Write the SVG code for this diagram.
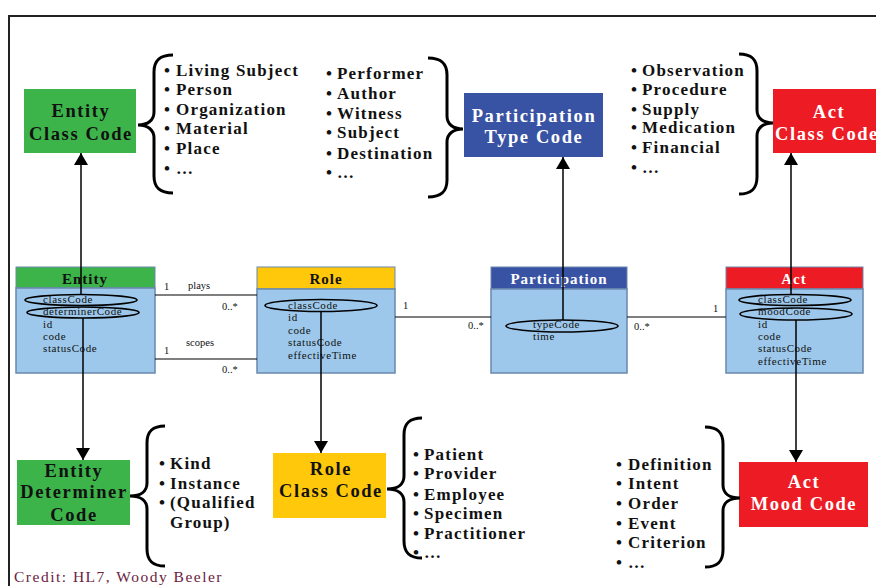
<svg xmlns="http://www.w3.org/2000/svg" width="876" height="586" viewBox="0 0 876 586">
<defs>
<marker id="ah" markerUnits="userSpaceOnUse" markerWidth="12" markerHeight="14" refX="12" refY="7" orient="auto">
<path d="M0,0 L12,7 L0,14 z" fill="#000"/>
</marker>
<style>
.bx{font-family:"Liberation Serif","Times New Roman",serif;font-weight:bold;font-size:18.5px;letter-spacing:1.6px;text-anchor:middle}
.li{font-family:"Liberation Serif","Times New Roman",serif;font-weight:bold;font-size:17px;letter-spacing:1.2px;fill:#111}
.hd{font-family:"Liberation Serif","Times New Roman",serif;font-weight:bold;font-size:15px;letter-spacing:1px;text-anchor:middle}
.at{font-family:"Liberation Serif","Times New Roman",serif;font-size:11px;letter-spacing:0.6px;fill:#111}
.ml{font-family:"Liberation Serif","Times New Roman",serif;font-size:10.5px;fill:#111}
.br{fill:none;stroke:#000;stroke-width:3}
.el{fill:none;stroke:#000;stroke-width:1.6}
.body{fill:#9dc8eb;stroke:#6a88ad;stroke-width:1.5}
.cn{stroke:#000;stroke-width:1.2;fill:none}
.ar{stroke:#000;stroke-width:1.5;fill:none;marker-end:url(#ah)}
.w{fill:#fff}
.k{fill:#111}
</style>
</defs>
<rect width="876" height="586" fill="#fff"/>
<path d="M9,586 L9,16 L876,16" fill="none" stroke="#222" stroke-width="2"/>

<g id="entity-class-code">
<rect x="24" y="89" width="112" height="64" fill="#3cb44a"/>
<text class="bx k" x="81" y="117">Entity</text>
<text class="bx k" x="81" y="140">Class Code</text>
<path class="br" d="M173,55 C160,55 154,60 154,72 L154,112 C154,120 148,125 138,125 C148,125 154,130 154,138 L154,176 C154,188 160,193 173,193"/>
<text class="li"><tspan x="164" y="76">•</tspan><tspan x="176" y="76">Living Subject</tspan></text>
<text class="li"><tspan x="164" y="95">•</tspan><tspan x="176" y="95">Person</tspan></text>
<text class="li"><tspan x="164" y="115">•</tspan><tspan x="176" y="115">Organization</tspan></text>
<text class="li"><tspan x="164" y="134">•</tspan><tspan x="176" y="134">Material</tspan></text>
<text class="li"><tspan x="164" y="154">•</tspan><tspan x="176" y="154">Place</tspan></text>
<text class="li"><tspan x="164" y="174">•</tspan><tspan x="176" y="174">…</tspan></text>
</g>

<g id="participation-type-code">
<rect x="464" y="93" width="139" height="64" fill="#3953a4"/>
<text class="bx w" x="534" y="122">Participation</text>
<text class="bx w" x="534" y="143">Type Code</text>
<path class="br" d="M428,58 C441,58 447,63 447,75 L447,116 C447,124 453,129 463,129 C453,129 447,134 447,142 L447,180 C447,192 441,197 428,197"/>
<text class="li"><tspan x="326" y="79">•</tspan><tspan x="337" y="79">Performer</tspan></text>
<text class="li"><tspan x="326" y="99">•</tspan><tspan x="337" y="99">Author</tspan></text>
<text class="li"><tspan x="326" y="119">•</tspan><tspan x="337" y="119">Witness</tspan></text>
<text class="li"><tspan x="326" y="138">•</tspan><tspan x="337" y="138">Subject</tspan></text>
<text class="li"><tspan x="326" y="159">•</tspan><tspan x="337" y="159">Destination</tspan></text>
<text class="li"><tspan x="326" y="178">•</tspan><tspan x="337" y="178">…</tspan></text>
</g>

<g id="act-class-code">
<rect x="773" y="89" width="112" height="64" fill="#ed1c24"/>
<text class="bx w" x="829" y="118">Act</text>
<text class="bx w" x="827" y="140">Class Code</text>
<path class="br" d="M739,54 C751,54 757,59 757,71 L757,110 C757,118 763,123 773,123 C763,123 757,128 757,136 L757,177 C757,189 751,194 739,194"/>
<text class="li"><tspan x="631" y="76">•</tspan><tspan x="642" y="76">Observation</tspan></text>
<text class="li"><tspan x="631" y="95">•</tspan><tspan x="642" y="95">Procedure</tspan></text>
<text class="li"><tspan x="631" y="115">•</tspan><tspan x="642" y="115">Supply</tspan></text>
<text class="li"><tspan x="631" y="133">•</tspan><tspan x="642" y="133">Medication</tspan></text>
<text class="li"><tspan x="631" y="153">•</tspan><tspan x="642" y="153">Financial</tspan></text>
<text class="li"><tspan x="631" y="173">•</tspan><tspan x="642" y="173">…</tspan></text>
</g>

<g id="entity">
<rect x="16" y="267" width="139" height="21" fill="#3cb44a" stroke="#6a88ad" stroke-width="1"/>
<rect class="body" x="16" y="288" width="139" height="85"/>
<text class="hd k" x="85" y="284">Entity</text>
<text class="at" x="43" y="303">classCode</text>
<text class="at" x="43" y="315">determinerCode</text>
<text class="at" x="43" y="328">id</text>
<text class="at" x="43" y="340">code</text>
<text class="at" x="43" y="352">statusCode</text>
<ellipse class="el" cx="81" cy="300" rx="56" ry="5.5"/>
<ellipse class="el" cx="83" cy="312.5" rx="56" ry="5.5"/>
</g>

<g id="role">
<rect x="257" y="267" width="138" height="22" fill="#ffc80a" stroke="#6a88ad" stroke-width="1"/>
<rect class="body" x="257" y="289" width="138" height="84"/>
<text class="hd k" x="326" y="284">Role</text>
<text class="at" x="288" y="309">classCode</text>
<text class="at" x="288" y="321">id</text>
<text class="at" x="288" y="334">code</text>
<text class="at" x="288" y="346">statusCode</text>
<text class="at" x="288" y="359">effectiveTime</text>
<ellipse class="el" cx="321" cy="305.5" rx="56" ry="6"/>
</g>

<g id="participation">
<rect x="491" y="267" width="136" height="22" fill="#3953a4" stroke="#6a88ad" stroke-width="1"/>
<rect class="body" x="491" y="289" width="136" height="84"/>
<text class="hd w" x="559" y="284">Participation</text>
<text class="at" x="533" y="328">typeCode</text>
<text class="at" x="533" y="340">time</text>
<ellipse class="el" cx="562" cy="326" rx="56" ry="6"/>
</g>

<g id="act">
<rect x="726" y="267" width="137" height="22" fill="#ed1c24" stroke="#6a88ad" stroke-width="1"/>
<rect class="body" x="726" y="289" width="137" height="84"/>
<text class="hd w" x="794" y="284">Act</text>
<text class="at" x="758" y="303">classCode</text>
<text class="at" x="758" y="315">moodCode</text>
<text class="at" x="758" y="328">id</text>
<text class="at" x="758" y="340">code</text>
<text class="at" x="758" y="352">statusCode</text>
<text class="at" x="758" y="365">effectiveTime</text>
<ellipse class="el" cx="795" cy="300" rx="56" ry="5.5"/>
<ellipse class="el" cx="796" cy="314" rx="56" ry="6"/>
</g>

<g id="entity-determiner-code">
<rect x="17" y="460" width="113" height="65" fill="#3cb44a"/>
<text class="bx k" x="74" y="477">Entity</text>
<text class="bx k" x="74" y="498">Determiner</text>
<text class="bx k" x="74" y="521">Code</text>
<path class="br" d="M165,426 C153,426 147,431 147,443 L147,483 C147,491 141,496 130,496 C141,496 147,501 147,509 L147,549 C147,561 153,566 165,566"/>
<text class="li"><tspan x="159" y="469">•</tspan><tspan x="170" y="469">Kind</tspan></text>
<text class="li"><tspan x="159" y="489">•</tspan><tspan x="170" y="489">Instance</tspan></text>
<text class="li"><tspan x="159" y="508">•</tspan><tspan x="170" y="508">(Qualified</tspan></text>
<text class="li"><tspan x="170" y="528">Group)</tspan></text>
</g>

<g id="role-class-code">
<rect x="273" y="453" width="113" height="65" fill="#ffc80a"/>
<text class="bx k" x="331" y="475">Role</text>
<text class="bx k" x="331" y="497">Class Code</text>
<path class="br" d="M422,418 C410,418 404,423 404,435 L404,476 C404,484 398,489 387,489 C398,489 404,494 404,502 L404,541 C404,553 410,558 422,558"/>
<text class="li"><tspan x="413" y="460">•</tspan><tspan x="424" y="460">Patient</tspan></text>
<text class="li"><tspan x="413" y="479">•</tspan><tspan x="424" y="479">Provider</tspan></text>
<text class="li"><tspan x="413" y="500">•</tspan><tspan x="424" y="500">Employee</tspan></text>
<text class="li"><tspan x="413" y="519">•</tspan><tspan x="424" y="519">Specimen</tspan></text>
<text class="li"><tspan x="413" y="539">•</tspan><tspan x="424" y="539">Practitioner</tspan></text>
<text class="li"><tspan x="413" y="558">•</tspan><tspan x="424" y="558">…</tspan></text>
</g>

<g id="act-mood-code">
<rect x="739" y="462" width="129" height="65" fill="#ed1c24"/>
<text class="bx w" x="804" y="488">Act</text>
<text class="bx w" x="804" y="510">Mood Code</text>
<path class="br" d="M705,427 C717,427 723,432 723,444 L723,485 C723,493 729,498 740,498 C729,498 723,503 723,511 L723,550 C723,562 717,567 705,567"/>
<text class="li"><tspan x="616" y="470">•</tspan><tspan x="628" y="470">Definition</tspan></text>
<text class="li"><tspan x="616" y="489">•</tspan><tspan x="628" y="489">Intent</tspan></text>
<text class="li"><tspan x="616" y="509">•</tspan><tspan x="628" y="509">Order</tspan></text>
<text class="li"><tspan x="616" y="529">•</tspan><tspan x="628" y="529">Event</tspan></text>
<text class="li"><tspan x="616" y="548">•</tspan><tspan x="628" y="548">Criterion</tspan></text>
<text class="li"><tspan x="616" y="568">•</tspan><tspan x="628" y="568">…</tspan></text>
</g>

<g id="connectors">
<line class="cn" x1="155" y1="295" x2="257" y2="295"/>
<line class="cn" x1="155" y1="359" x2="257" y2="359"/>
<line class="cn" x1="395" y1="317" x2="491" y2="317"/>
<line class="cn" x1="627" y1="317" x2="726" y2="317"/>
<text class="ml" x="164" y="290">1</text>
<text class="ml" x="188" y="289">plays</text>
<text class="ml" x="222" y="310">0..*</text>
<text class="ml" x="164" y="354">1</text>
<text class="ml" x="186" y="346">scopes</text>
<text class="ml" x="222" y="373">0..*</text>
<text class="ml" x="403" y="309">1</text>
<text class="ml" x="468" y="329">0..*</text>
<text class="ml" x="634" y="330">0..*</text>
<text class="ml" x="713" y="312">1</text>
<line class="ar" x1="81" y1="294" x2="81" y2="153"/>
<line class="ar" x1="563" y1="320" x2="563" y2="157"/>
<line class="ar" x1="791" y1="294" x2="791" y2="153"/>
<line class="ar" x1="83" y1="318" x2="83" y2="460"/>
<line class="ar" x1="321" y1="312" x2="321" y2="453"/>
<line class="ar" x1="796" y1="320" x2="796" y2="462"/>
</g>

<text x="14" y="582" font-family="'Liberation Serif','Times New Roman',serif" font-size="15.5px" letter-spacing="1.5" fill="#6b2040">Credit: HL7, Woody Beeler</text>
</svg>
